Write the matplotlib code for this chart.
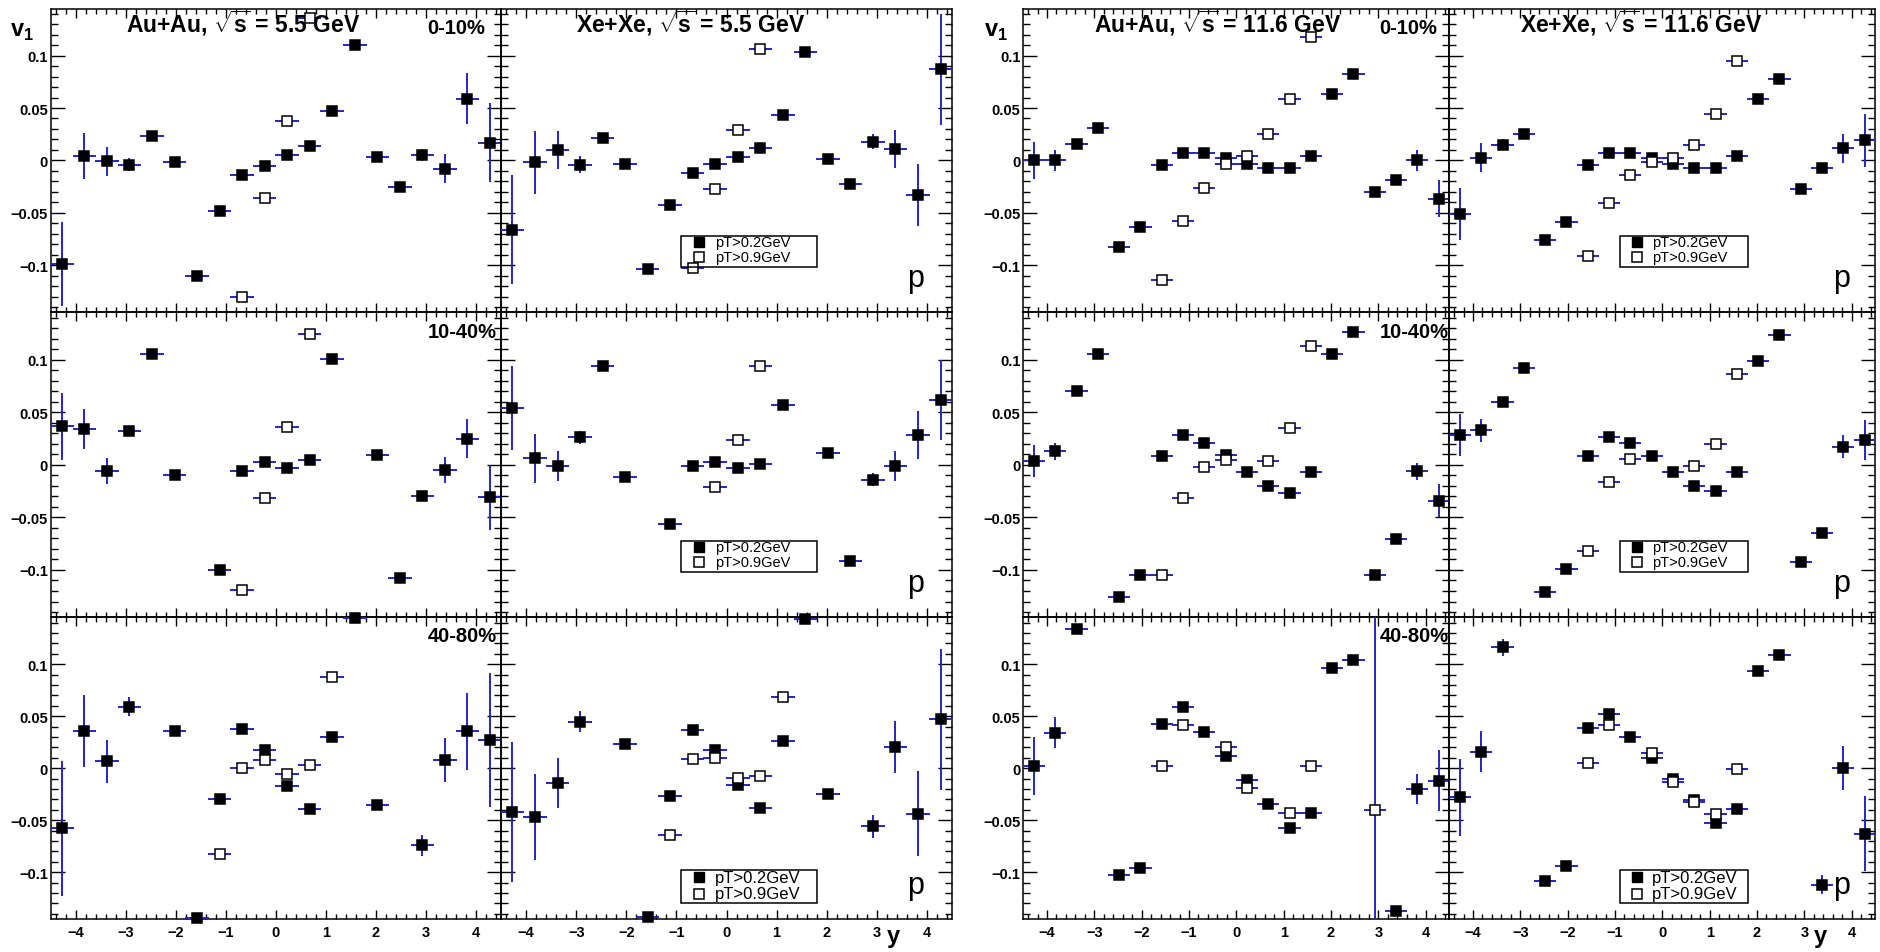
import numpy as np
import matplotlib
matplotlib.use("Agg")
import matplotlib.pyplot as plt
from matplotlib.ticker import MultipleLocator, FuncFormatter
from matplotlib.patches import Rectangle

nan = np.nan

# rapidity bin centres, 20 bins over -4.5..4.5
y_bins = [-4.275, -3.825, -3.375, -2.925, -2.475, -2.025, -1.575, -1.125, -0.675, -0.225,
          0.225, 0.675, 1.125, 1.575, 2.025, 2.475, 2.925, 3.375, 3.825, 4.275]

# ---- proton v1, sqrt(s) = 5.5 GeV ----
# pT > 0.2 GeV (lo) and pT > 0.9 GeV (hi)
au55_c0_lo = [-0.099, 0.004, -0.001, -0.004, 0.023, -0.002, -0.110, -0.048, -0.014, -0.005,
              0.005, 0.014, 0.047, 0.110, 0.003, -0.025, 0.005, -0.008, 0.059, 0.017]
au55_c0_lo_err = [0.040, 0.022, 0.014, 0.006, 0.002, 0.002, 0.002, 0.002, 0.002, 0.002,
                  0.002, 0.002, 0.002, 0.002, 0.002, 0.002, 0.006, 0.014, 0.024, 0.038]
au55_c0_hi = [nan, nan, nan, nan, nan, nan, nan, nan, -0.130, -0.036,
              0.038, 0.136, nan, nan, nan, nan, nan, nan, nan, nan]

xe55_c0_lo = [-0.066, -0.002, 0.010, -0.004, 0.021, -0.003, -0.104, -0.043, -0.012, -0.003,
              0.003, 0.012, 0.043, 0.103, 0.001, -0.023, 0.018, 0.011, -0.033, 0.087]
xe55_c0_lo_err = [0.052, 0.030, 0.018, 0.008, 0.002, 0.002, 0.002, 0.002, 0.002, 0.002,
                  0.002, 0.002, 0.002, 0.002, 0.002, 0.002, 0.007, 0.018, 0.030, 0.053]
xe55_c0_hi = [nan, nan, nan, nan, nan, nan, nan, nan, -0.103, -0.027,
              0.029, 0.106, nan, nan, nan, nan, nan, nan, nan, nan]

au55_c1_lo = [0.0365, 0.034, -0.006, 0.032, 0.105, -0.010, nan, -0.100, -0.0055, 0.003,
              -0.003, 0.005, 0.101, nan, 0.009, -0.108, -0.030, -0.005, 0.025, -0.031]
au55_c1_lo_err = [0.032, 0.019, 0.012, 0.003, 0.002, 0.002, 0.002, 0.002, 0.002, 0.002,
                  0.002, 0.002, 0.002, 0.002, 0.002, 0.002, 0.002, 0.012, 0.019, 0.031]
au55_c1_hi = [nan, nan, nan, nan, nan, nan, nan, nan, -0.119, -0.032,
              0.036, 0.124, nan, nan, nan, nan, nan, nan, nan, nan]

xe55_c1_lo = [0.054, 0.006, -0.001, 0.026, 0.094, -0.012, nan, -0.056, -0.001, 0.0025,
              -0.003, 0.001, 0.057, nan, 0.011, -0.091, -0.014, -0.001, 0.0285, 0.062]
xe55_c1_lo_err = [0.040, 0.023, 0.014, 0.006, 0.002, 0.002, 0.002, 0.002, 0.002, 0.002,
                  0.002, 0.002, 0.002, 0.002, 0.002, 0.002, 0.006, 0.014, 0.023, 0.038]
xe55_c1_hi = [nan, nan, nan, nan, nan, nan, nan, nan, nan, -0.0215,
              0.024, 0.094, nan, nan, nan, nan, nan, nan, nan, nan]

au55_c2_lo = [-0.058, 0.0357, 0.0064, 0.059, nan, 0.0357, -0.144, -0.030, 0.038, 0.017,
              -0.017, -0.039, 0.030, 0.144, -0.0357, nan, -0.074, 0.008, 0.0357, 0.027]
au55_c2_lo_err = [0.0645, 0.035, 0.021, 0.009, 0.002, 0.002, 0.002, 0.002, 0.002, 0.002,
                  0.002, 0.002, 0.002, 0.002, 0.002, 0.002, 0.010, 0.021, 0.037, 0.064]
au55_c2_hi = [nan, nan, nan, nan, nan, nan, nan, -0.083, 0.000, 0.008,
              -0.0054, 0.003, 0.0876, nan, nan, nan, nan, nan, nan, nan]

xe55_c2_lo = [-0.042, -0.047, -0.014, 0.0446, nan, 0.023, -0.143, -0.027, 0.0366, 0.017,
              -0.0166, -0.038, 0.0264, 0.143, -0.025, nan, -0.0557, 0.020, -0.0436, 0.047]
xe55_c2_lo_err = [0.067, 0.041, 0.024, 0.010, 0.002, 0.002, 0.002, 0.002, 0.002, 0.002,
                  0.002, 0.002, 0.002, 0.002, 0.002, 0.002, 0.011, 0.025, 0.041, 0.068]
xe55_c2_hi = [nan, nan, nan, nan, nan, nan, nan, -0.064, 0.009, 0.010,
              -0.0096, -0.008, 0.068, nan, nan, nan, nan, nan, nan, nan]

# ---- proton v1, sqrt(s) = 11.6 GeV ----
au116_c0_lo = [0.000, 0.000, 0.016, 0.031, -0.083, -0.064, -0.0045, 0.0067, 0.0067, 0.0025,
               -0.003, -0.0076, -0.007, 0.004, 0.0635, 0.0825, -0.030, -0.0187, 0.0003, -0.0365]
au116_c0_lo_err = [0.018, 0.010, 0.003, 0.002, 0.002, 0.002, 0.002, 0.002, 0.002, 0.002,
                   0.002, 0.002, 0.002, 0.002, 0.002, 0.002, 0.002, 0.002, 0.010, 0.018]
au116_c0_hi = [nan, nan, nan, nan, nan, nan, -0.114, -0.058, -0.026, -0.003,
               0.004, 0.025, 0.059, 0.1175, nan, nan, nan, nan, nan, nan]

xe116_c0_lo = [-0.051, 0.0025, 0.015, 0.025, -0.076, -0.059, -0.004, 0.0067, 0.0067, 0.0025,
               -0.003, -0.007, -0.007, 0.004, 0.059, 0.078, -0.0276, -0.007, 0.0114, 0.019]
xe116_c0_lo_err = [0.025, 0.014, 0.005, 0.002, 0.002, 0.002, 0.002, 0.002, 0.002, 0.002,
                   0.002, 0.002, 0.002, 0.002, 0.002, 0.002, 0.002, 0.004, 0.014, 0.025]
xe116_c0_hi = [nan, nan, nan, nan, nan, nan, -0.091, -0.041, -0.014, -0.002,
               0.002, 0.015, 0.044, 0.0946, nan, nan, nan, nan, nan, nan]

au116_c1_lo = [0.0035, 0.013, 0.070, 0.105, -0.126, -0.105, 0.008, 0.028, 0.021, 0.009,
               -0.007, -0.020, -0.0267, -0.007, 0.1057, 0.126, -0.105, -0.0705, -0.006, -0.034]
au116_c1_lo_err = [0.015, 0.008, 0.002, 0.002, 0.002, 0.002, 0.002, 0.002, 0.002, 0.002,
                   0.002, 0.002, 0.002, 0.002, 0.002, 0.002, 0.002, 0.002, 0.008, 0.0155]
au116_c1_hi = [nan, nan, nan, nan, nan, nan, -0.105, -0.032, -0.002, 0.005,
               nan, 0.0035, 0.035, 0.113, nan, nan, nan, nan, nan, nan]

xe116_c1_lo = [0.028, 0.0327, 0.060, 0.092, -0.121, -0.099, 0.008, 0.026, 0.0206, 0.008,
               -0.007, -0.0197, -0.025, -0.007, 0.099, 0.123, -0.092, -0.065, 0.017, 0.024]
xe116_c1_lo_err = [0.020, 0.011, 0.002, 0.002, 0.002, 0.002, 0.002, 0.002, 0.002, 0.002,
                   0.002, 0.002, 0.002, 0.002, 0.002, 0.002, 0.002, 0.002, 0.011, 0.019]
xe116_c1_hi = [nan, nan, nan, nan, nan, nan, -0.082, -0.0165, 0.0057, nan,
               nan, -0.001, 0.0197, 0.086, nan, nan, nan, nan, nan, nan]

au116_c2_lo = [0.002, 0.034, 0.134, nan, -0.103, -0.096, 0.0427, 0.0586, 0.035, 0.0115,
               -0.011, -0.034, -0.058, -0.043, 0.096, 0.1035, nan, -0.1376, -0.020, -0.012]
au116_c2_lo_err = [0.028, 0.015, 0.005, 0.002, 0.002, 0.002, 0.002, 0.002, 0.002, 0.002,
                   0.002, 0.002, 0.002, 0.002, 0.002, 0.002, 0.002, 0.004, 0.0147, 0.029]
au116_c2_hi = [nan, nan, nan, nan, nan, nan, 0.002, 0.0417, nan, 0.020,
               -0.019, nan, -0.0427, 0.0016, nan, nan, -0.040, nan, nan, nan]
au116_c2_hi_err = [0.002, 0.002, 0.002, 0.002, 0.002, 0.002, 0.002, 0.002, 0.002, 0.002,
                   0.002, 0.002, 0.002, 0.002, 0.002, 0.002, 0.200, 0.002, 0.002, 0.002]

xe116_c2_lo = [-0.028, 0.016, 0.116, nan, -0.108, -0.094, 0.039, 0.0525, 0.030, 0.010,
               -0.010, -0.0306, -0.053, -0.039, 0.0936, 0.109, nan, -0.112, 0.000, -0.063]
xe116_c2_lo_err = [0.037, 0.020, 0.008, 0.002, 0.002, 0.002, 0.002, 0.002, 0.002, 0.002,
                   0.002, 0.002, 0.002, 0.002, 0.002, 0.002, 0.002, 0.009, 0.021, 0.036]
xe116_c2_hi = [nan, nan, nan, nan, nan, nan, 0.005, 0.041, nan, 0.0146,
               -0.013, -0.033, -0.044, -0.001, nan, nan, nan, nan, nan, nan]

HI_ERR = 0.002          # default error on the pT>0.9 points
centralities = ["0-10%", "10-40%", "40-80%"]
energies = ["5.5", "11.6"]

W, H = 1880, 953
EBAR = "#2626c0"
XHALF = 0.235
YMAX = 0.145

plt.rcParams["font.family"] = ["Liberation Sans", "DejaVu Sans"]
plt.rcParams["mathtext.fontset"] = "custom"
plt.rcParams["mathtext.rm"] = "Liberation Sans"
plt.rcParams["mathtext.bf"] = "Liberation Sans:bold"

fig = plt.figure(figsize=(W / 100, H / 100), dpi=100)

# frame edges in pixels: two canvases, two columns each
col_edges = [[50.6, 501.2, 951.8], [1023.3, 1449.3, 1875.3]]
row_edges = [9.5, 313.3, 618.3, 920.0]
# legend box (axes fractions) per row: y0, y1, entry1, entry2, text size
leg_rows = [(0.149, 0.251, 0.231, 0.182, 10.5),
            (0.148, 0.249, 0.229, 0.180, 10.5),
            (0.053, 0.162, 0.139, 0.083, 12)]


def add_axes(x0, x1, y0, y1):
    return fig.add_axes([x0 / W, 1 - y1 / H, (x1 - x0) / W, (y1 - y0) / H])


def fmt(v, pos):
    if abs(v) < 1e-9:
        return "0"
    return ("%g" % round(v, 3)).replace("-", "\u2212")


def draw_series(ax, vals, errs, filled):
    x = np.array(y_bins)
    v = np.array(vals, dtype=float)
    e = np.array(errs, dtype=float)
    ok = ~np.isnan(v)
    top = np.clip(v + e, -YMAX, YMAX)
    bot = np.clip(v - e, -YMAX, YMAX)
    z = 5 if filled else 7
    ax.vlines(x[ok], bot[ok], top[ok], color=EBAR, lw=1.4, clip_on=False, zorder=z)
    ax.hlines(v[ok], x[ok] - XHALF, x[ok] + XHALF, color=EBAR, lw=1.4,
              clip_on=False, zorder=z)
    ax.plot(x[ok], v[ok], ls="none", marker="s", ms=6.6,
            mfc="black" if filled else "white", mec="black", mew=1.1,
            clip_on=False, zorder=z + 1)


panels = {
    (0, 0, 0): (au55_c0_lo, au55_c0_lo_err, au55_c0_hi, None),
    (0, 1, 0): (xe55_c0_lo, xe55_c0_lo_err, xe55_c0_hi, None),
    (0, 0, 1): (au55_c1_lo, au55_c1_lo_err, au55_c1_hi, None),
    (0, 1, 1): (xe55_c1_lo, xe55_c1_lo_err, xe55_c1_hi, None),
    (0, 0, 2): (au55_c2_lo, au55_c2_lo_err, au55_c2_hi, None),
    (0, 1, 2): (xe55_c2_lo, xe55_c2_lo_err, xe55_c2_hi, None),
    (1, 0, 0): (au116_c0_lo, au116_c0_lo_err, au116_c0_hi, None),
    (1, 1, 0): (xe116_c0_lo, xe116_c0_lo_err, xe116_c0_hi, None),
    (1, 0, 1): (au116_c1_lo, au116_c1_lo_err, au116_c1_hi, None),
    (1, 1, 1): (xe116_c1_lo, xe116_c1_lo_err, xe116_c1_hi, None),
    (1, 0, 2): (au116_c2_lo, au116_c2_lo_err, au116_c2_hi, au116_c2_hi_err),
    (1, 1, 2): (xe116_c2_lo, xe116_c2_lo_err, xe116_c2_hi, None),
}

for (cv, col, row), (lo, lo_err, hi, hi_err) in panels.items():
    xe = col_edges[cv]
    ax = add_axes(xe[col], xe[col + 1], row_edges[row], row_edges[row + 1])
    ax.set_facecolor("none")
    ax.set_xlim(-4.5, 4.5)
    ax.set_ylim(-YMAX, YMAX)
    for s in ax.spines.values():
        s.set_linewidth(1.1)
    ax.xaxis.set_major_locator(MultipleLocator(1))
    ax.xaxis.set_minor_locator(MultipleLocator(0.2))
    ax.yaxis.set_major_locator(MultipleLocator(0.05))
    ax.yaxis.set_minor_locator(MultipleLocator(0.01))
    ax.xaxis.set_major_formatter(FuncFormatter(fmt))
    ax.yaxis.set_major_formatter(FuncFormatter(fmt))
    ax.tick_params(which="both", direction="in", top=True, right=True, width=1.0,
                   labelsize=10.5, colors="black")
    ax.tick_params(axis="x", which="major", length=6.5, pad=4)
    ax.tick_params(axis="x", which="minor", length=3.6)
    ax.tick_params(axis="y", which="major", length=10, pad=2)
    ax.tick_params(axis="y", which="minor", length=5)
    ax.tick_params(labelleft=(col == 0), labelbottom=(row == 2))
    for lab in ax.get_xticklabels() + ax.get_yticklabels():
        lab.set_fontweight("bold")

    if hi_err is None:
        hi_err = [HI_ERR] * len(hi)
    draw_series(ax, lo, lo_err, True)
    draw_series(ax, hi, hi_err, False)

    xt = ax.get_xaxis_transform()
    if row == 0:
        system = "Au+Au" if col == 0 else "Xe+Xe"
        ax.text(-3.0, 0.924, system + r", $\sqrt{\mathbf{s}}$ = " + energies[cv] + " GeV",
                transform=xt, ha="left", va="baseline", fontsize=16.5,
                fontweight="bold", zorder=10)
    if col == 0:
        ax.text(3.03, 0.92, centralities[row], transform=xt, ha="left",
                va="baseline", fontsize=14.5, fontweight="bold", zorder=10)
    else:
        by0, by1, ty0, ty1, lfs = leg_rows[row]
        ax.add_patch(Rectangle((0.40, by0), 0.30, by1 - by0, transform=ax.transAxes,
                               fill=False, ec="black", lw=1.1, zorder=10,
                               clip_on=False))
        ax.plot([0.44], [ty0], transform=ax.transAxes, ls="none", marker="s", ms=6.6,
                mfc="black", mec="black", clip_on=False, zorder=11)
        ax.plot([0.44], [ty1], transform=ax.transAxes, ls="none", marker="s", ms=6.6,
                mfc="white", mec="black", mew=1.1, clip_on=False, zorder=11)
        ax.text(0.475, ty0, "pT>0.2GeV", transform=ax.transAxes, ha="left",
                va="center", fontsize=lfs, zorder=11)
        ax.text(0.475, ty1, "pT>0.9GeV", transform=ax.transAxes, ha="left",
                va="center", fontsize=lfs, zorder=11)
        ax.text(0.900, 0.085, "p", transform=ax.transAxes, ha="left",
                va="baseline", fontsize=22, zorder=11)

# axis titles
for vx, yx in [(10, 893), (984, 1820)]:
    fig.text(vx / W, 1 - 37 / H, r"$\mathbf{v}_{\mathbf{1}}$", fontsize=17,
             ha="left", va="baseline")
    fig.text(yx / W, 1 - 943 / H, "y", fontsize=17, fontweight="bold",
             ha="center", va="baseline")

fig.savefig("out.png", dpi=100, facecolor="white")
